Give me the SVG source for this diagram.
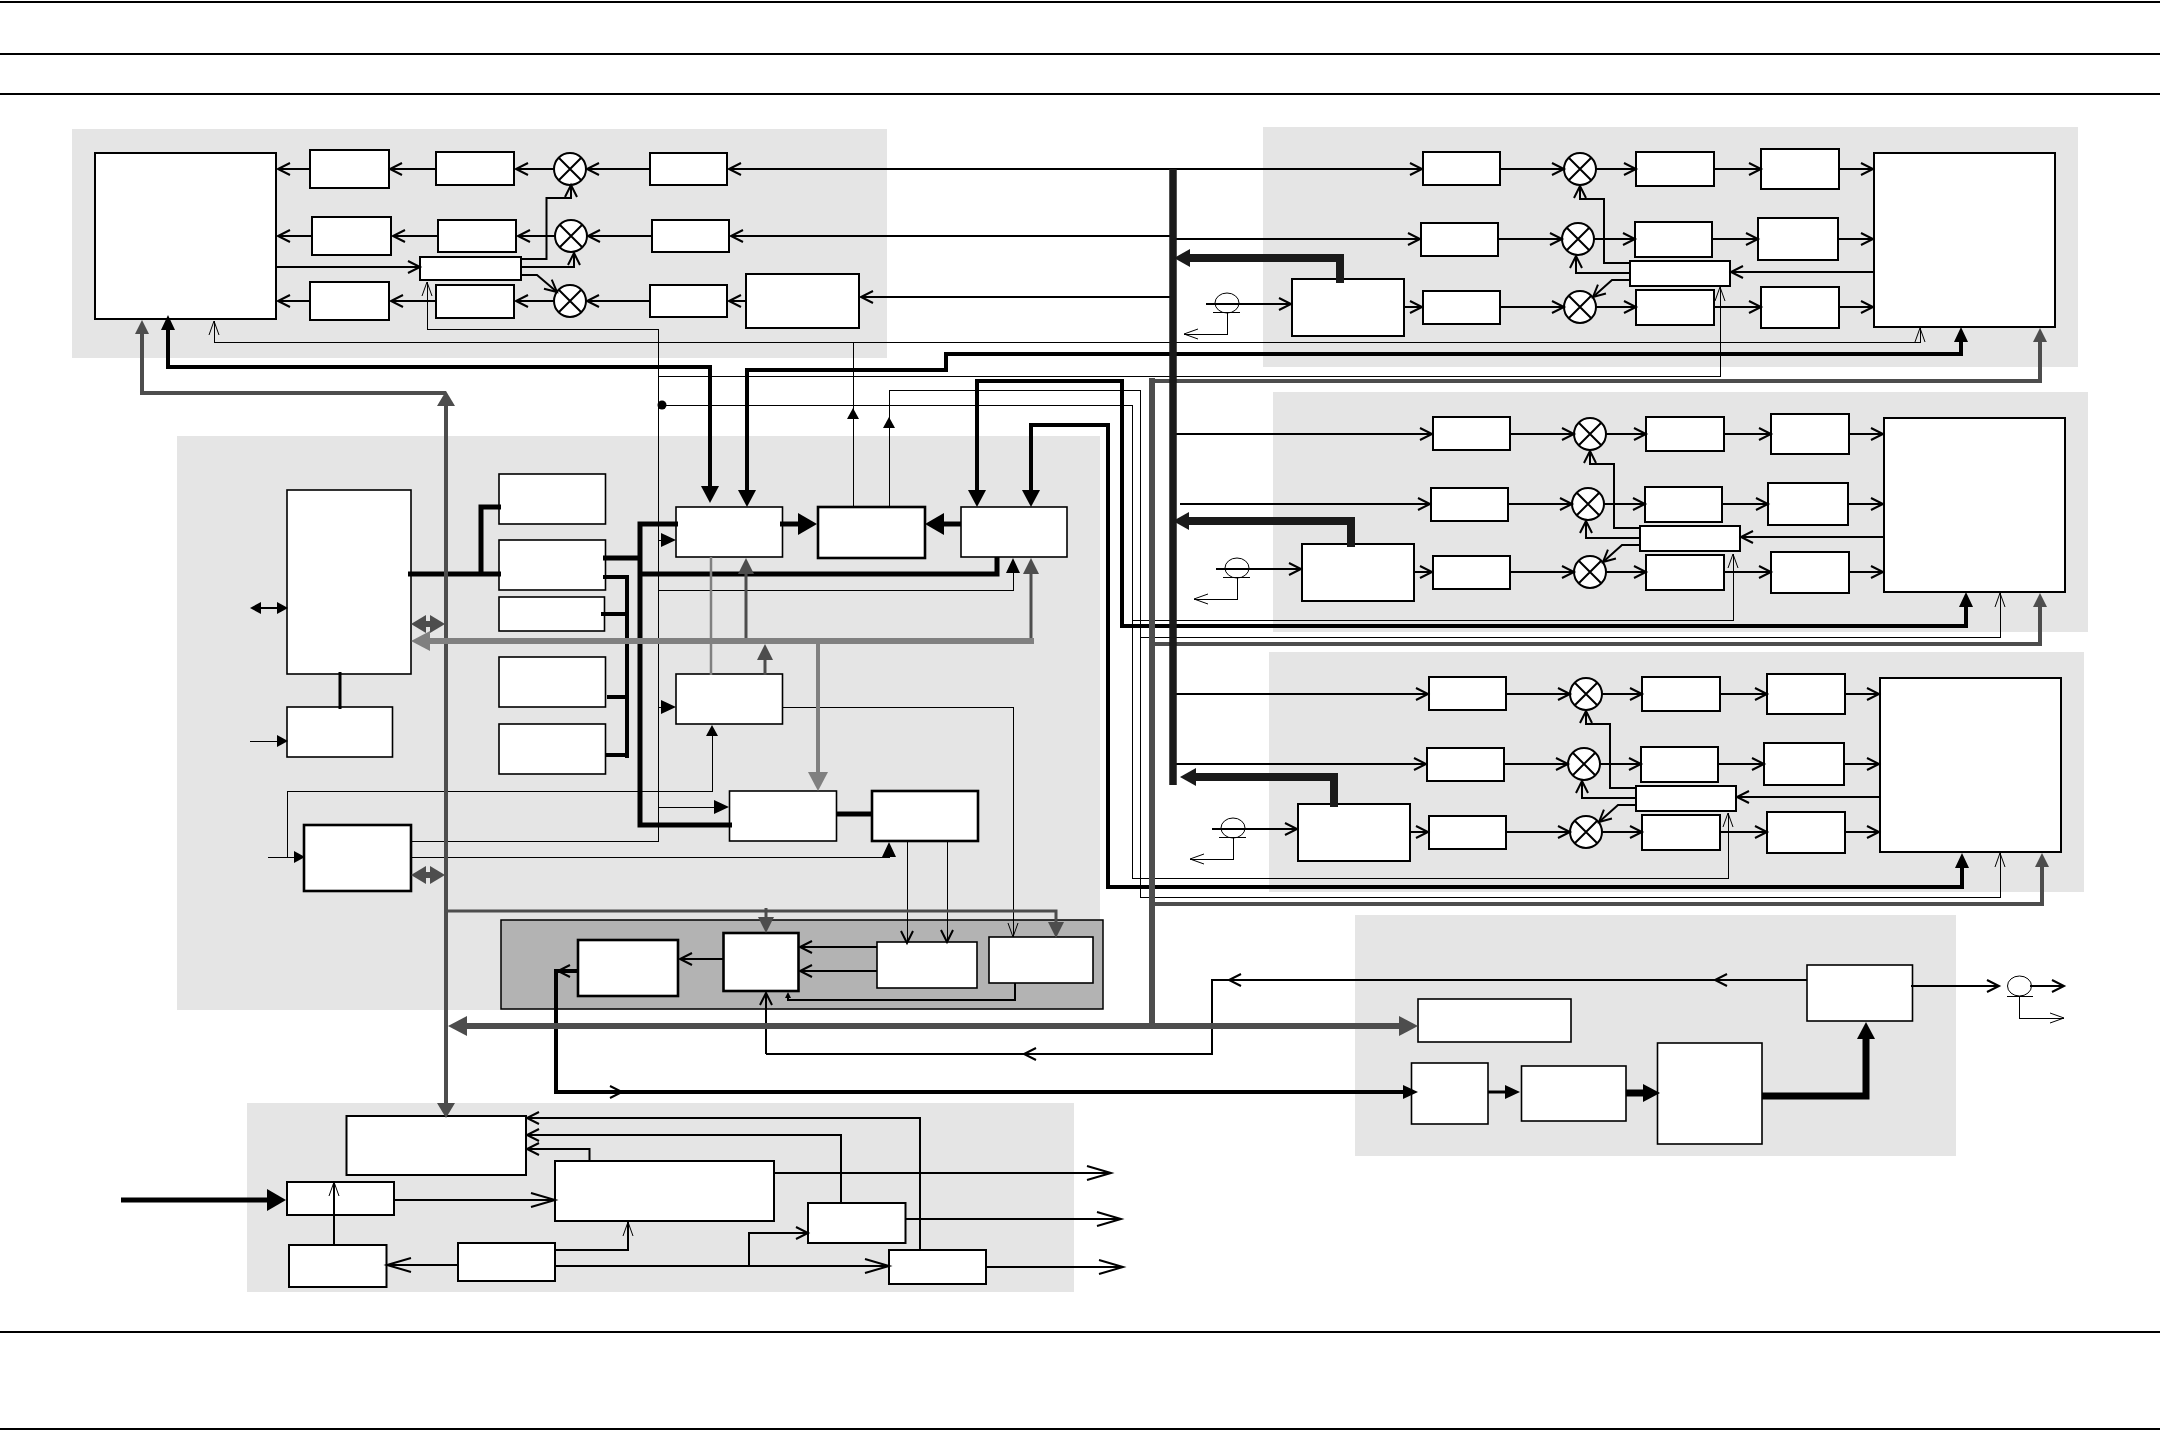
<svg xmlns="http://www.w3.org/2000/svg" width="2160" height="1431" viewBox="0 0 2160 1431">
<style>
.p{fill:#e5e5e5}
.pd{fill:#b3b3b3;stroke:#000;stroke-width:1.5}
.a rect{fill:#fff;stroke:#000;stroke-width:2}
.a circle{fill:#fff;stroke:#000;stroke-width:2}
.c rect{fill:#fff;stroke:#000;stroke-width:1.6}
.t rect{fill:#fff;stroke:#000;stroke-width:2.6}
.x{fill:none;stroke:#000;stroke-width:2}
.s{fill:none;stroke:#000;stroke-width:1}
#connectors path,#rules path{fill:none}
.k1{stroke:#000;stroke-width:1;shape-rendering:crispEdges}
.k2{stroke:#000;stroke-width:2}
.k3{stroke:#000;stroke-width:3}
.k4{stroke:#000;stroke-width:4}
.k5{stroke:#000;stroke-width:5}
.k7{stroke:#000;stroke-width:7}
.d3{stroke:#4d4d4d;stroke-width:3}
.d4{stroke:#4d4d4d;stroke-width:4}
.d6{stroke:#4d4d4d;stroke-width:6}
.m2{stroke:#808080;stroke-width:2.5}
.m4{stroke:#808080;stroke-width:4}
.m6{stroke:#808080;stroke-width:6}
.b8{stroke:#1a1a1a;stroke-width:8}
.ch{marker-end:url(#ch)}
.chb{marker-end:url(#chb)}
.cht{marker-end:url(#cht)}
.tl{marker-end:url(#tl)}
.tm{marker-end:url(#tm)}
.ts{marker-end:url(#ts)}
.tt{marker-end:url(#tt)}
.tb{marker-end:url(#tb)}
.gl{marker-end:url(#gl)}
.gd{marker-end:url(#gd)}
.gv{marker-end:url(#gv)}
.gm{marker-end:url(#gm)}
.gs{marker-end:url(#gs)}
.kk{marker-end:url(#kk)}
</style>
<defs>
<marker id="ch" markerUnits="userSpaceOnUse" orient="auto" overflow="visible" markerWidth="1" markerHeight="1"><path d="M-12,-6L0,0L-12,6" fill="none" stroke="#000" stroke-width="2"/></marker>
<marker id="chb" markerUnits="userSpaceOnUse" orient="auto" overflow="visible" markerWidth="1" markerHeight="1"><path d="M-24,-7L0,0L-24,7" fill="none" stroke="#000" stroke-width="2"/></marker>
<marker id="cht" markerUnits="userSpaceOnUse" orient="auto" overflow="visible" markerWidth="1" markerHeight="1"><path d="M-14,-5L0,0L-14,5" fill="none" stroke="#000" stroke-width="1"/></marker>
<marker id="tb" markerUnits="userSpaceOnUse" orient="auto" overflow="visible" markerWidth="1" markerHeight="1"><path d="M-1,-11L18,0L-1,11Z" fill="#000"/></marker>
<marker id="tl" markerUnits="userSpaceOnUse" orient="auto-start-reverse" overflow="visible" markerWidth="1" markerHeight="1"><path d="M-1,-9L16,0L-1,9Z" fill="#000"/></marker>
<marker id="tm" markerUnits="userSpaceOnUse" orient="auto" overflow="visible" markerWidth="1" markerHeight="1"><path d="M-1,-7L14,0L-1,7Z" fill="#000"/></marker>
<marker id="ts" markerUnits="userSpaceOnUse" orient="auto-start-reverse" overflow="visible" markerWidth="1" markerHeight="1"><path d="M-1,-6L10,0L-1,6Z" fill="#000"/></marker>
<marker id="tt" markerUnits="userSpaceOnUse" orient="auto" overflow="visible" markerWidth="1" markerHeight="1"><path d="M-1,-3L5,0L-1,3Z" fill="#000"/></marker>
<marker id="gl" markerUnits="userSpaceOnUse" orient="auto-start-reverse" overflow="visible" markerWidth="1" markerHeight="1"><path d="M-1,-8L15,0L-1,8Z" fill="#4d4d4d"/></marker>
<marker id="gs" markerUnits="userSpaceOnUse" orient="auto" overflow="visible" markerWidth="1" markerHeight="1"><path d="M-1,-7L13,0L-1,7Z" fill="#4d4d4d"/></marker>
<marker id="gv" markerUnits="userSpaceOnUse" orient="auto-start-reverse" overflow="visible" markerWidth="1" markerHeight="1"><path d="M-1,-9L14,0L-1,9Z" fill="#4d4d4d"/></marker>
<marker id="gd" markerUnits="userSpaceOnUse" orient="auto-start-reverse" overflow="visible" markerWidth="1" markerHeight="1"><path d="M-1,-10L18,0L-1,10Z" fill="#4d4d4d"/></marker>
<marker id="gm" markerUnits="userSpaceOnUse" orient="auto" overflow="visible" markerWidth="1" markerHeight="1"><path d="M-1,-10L18,0L-1,10Z" fill="#808080"/></marker>
<marker id="kk" markerUnits="userSpaceOnUse" orient="auto" overflow="visible" markerWidth="1" markerHeight="1"><path d="M-1,-9L15,0L-1,9Z" fill="#1a1a1a"/></marker>
</defs>
<rect width="2160" height="1431" fill="#fff"/>
<g id="rules"><path class="k2" d="M0,2H2160M0,54H2160M0,94H2160M0,1332H2160M0,1429H2160"/></g>
<g id="panels">
<rect class="p" x="72" y="129" width="815" height="229"/>
<rect class="p" x="1263" y="127" width="815" height="240"/>
<rect class="p" x="1273" y="392" width="815" height="240"/>
<rect class="p" x="1269" y="652" width="815" height="240"/>
<rect class="p" x="177" y="436" width="923" height="574"/>
<rect class="p" x="1355" y="915" width="601" height="241"/>
<rect class="p" x="247" y="1103" width="827" height="189"/>
<rect class="pd" x="501" y="920" width="602" height="89"/>
</g>
<g id="nodes-tx" class="a">
<g id="tx-block"><rect x="95" y="153" width="181" height="166"/></g>
<g id="tx-a1"><rect x="310" y="150" width="79" height="38"/></g>
<g id="tx-a2"><rect x="436" y="152" width="78" height="33"/></g>
<g id="tx-m1"><circle cx="570" cy="169" r="16"/><path class="x" d="M559,158L581,180M559,180L581,158"/></g>
<g id="tx-a3"><rect x="650" y="153" width="77" height="32"/></g>
<g id="tx-b1"><rect x="312" y="217" width="79" height="38"/></g>
<g id="tx-b2"><rect x="438" y="220" width="78" height="32"/></g>
<g id="tx-m2"><circle cx="571" cy="236" r="16"/><path class="x" d="M560,225L582,247M560,247L582,225"/></g>
<g id="tx-b3"><rect x="652" y="220" width="77" height="32"/></g>
<g id="tx-c1"><rect x="310" y="282" width="79" height="38"/></g>
<g id="tx-c2"><rect x="436" y="285" width="78" height="33"/></g>
<g id="tx-m3"><circle cx="570" cy="301" r="16"/><path class="x" d="M559,290L581,312M559,312L581,290"/></g>
<g id="tx-c3"><rect x="650" y="285" width="77" height="32"/></g>
<g id="tx-c4"><rect x="746" y="274" width="113" height="54"/></g>
<g id="tx-ctrl"><rect x="420" y="257" width="101" height="23"/></g>
</g>
<g id="nodes-ch1" class="a">
<g id="c1-r1a"><rect x="1423" y="152" width="77" height="33"/></g>
<g id="c1-m1"><circle cx="1580" cy="169" r="16"/><path class="x" d="M1569,158L1591,180M1569,180L1591,158"/></g>
<g id="c1-r1b"><rect x="1636" y="152" width="78" height="34"/></g>
<g id="c1-r1c"><rect x="1761" y="149" width="78" height="40"/></g>
<g id="c1-r2a"><rect x="1421" y="223" width="77" height="33"/></g>
<g id="c1-m2"><circle cx="1578" cy="239" r="16"/><path class="x" d="M1567,228L1589,250M1567,250L1589,228"/></g>
<g id="c1-r2b"><rect x="1635" y="222" width="77" height="35"/></g>
<g id="c1-r2c"><rect x="1758" y="218" width="80" height="42"/></g>
<g id="c1-r3a"><rect x="1423" y="291" width="77" height="33"/></g>
<g id="c1-m3"><circle cx="1580" cy="307" r="16"/><path class="x" d="M1569,296L1591,318M1569,318L1591,296"/></g>
<g id="c1-r3b"><rect x="1636" y="290" width="78" height="35"/></g>
<g id="c1-r3c"><rect x="1761" y="287" width="78" height="41"/></g>
<g id="c1-block"><rect x="1874" y="153" width="181" height="174"/></g>
<g id="c1-ctrl"><rect x="1630" y="261" width="100" height="25"/></g>
<g id="c1-in"><rect x="1292" y="279" width="112" height="57"/></g>
<g id="c1-sensor"><ellipse class="s" cx="1227" cy="303" rx="12" ry="10"/><path class="k1" d="M1213,312H1240"/></g>
</g>
<g id="nodes-ch2" class="a" transform="translate(10 265)">
<g id="c2-r1a"><rect x="1423" y="152" width="77" height="33"/></g>
<g id="c2-m1"><circle cx="1580" cy="169" r="16"/><path class="x" d="M1569,158L1591,180M1569,180L1591,158"/></g>
<g id="c2-r1b"><rect x="1636" y="152" width="78" height="34"/></g>
<g id="c2-r1c"><rect x="1761" y="149" width="78" height="40"/></g>
<g id="c2-r2a"><rect x="1421" y="223" width="77" height="33"/></g>
<g id="c2-m2"><circle cx="1578" cy="239" r="16"/><path class="x" d="M1567,228L1589,250M1567,250L1589,228"/></g>
<g id="c2-r2b"><rect x="1635" y="222" width="77" height="35"/></g>
<g id="c2-r2c"><rect x="1758" y="218" width="80" height="42"/></g>
<g id="c2-r3a"><rect x="1423" y="291" width="77" height="33"/></g>
<g id="c2-m3"><circle cx="1580" cy="307" r="16"/><path class="x" d="M1569,296L1591,318M1569,318L1591,296"/></g>
<g id="c2-r3b"><rect x="1636" y="290" width="78" height="35"/></g>
<g id="c2-r3c"><rect x="1761" y="287" width="78" height="41"/></g>
<g id="c2-block"><rect x="1874" y="153" width="181" height="174"/></g>
<g id="c2-ctrl"><rect x="1630" y="261" width="100" height="25"/></g>
<g id="c2-in"><rect x="1292" y="279" width="112" height="57"/></g>
<g id="c2-sensor"><ellipse class="s" cx="1227" cy="303" rx="12" ry="10"/><path class="k1" d="M1213,312H1240"/></g>
</g>
<g id="nodes-ch3" class="a" transform="translate(6 525)">
<g id="c3-r1a"><rect x="1423" y="152" width="77" height="33"/></g>
<g id="c3-m1"><circle cx="1580" cy="169" r="16"/><path class="x" d="M1569,158L1591,180M1569,180L1591,158"/></g>
<g id="c3-r1b"><rect x="1636" y="152" width="78" height="34"/></g>
<g id="c3-r1c"><rect x="1761" y="149" width="78" height="40"/></g>
<g id="c3-r2a"><rect x="1421" y="223" width="77" height="33"/></g>
<g id="c3-m2"><circle cx="1578" cy="239" r="16"/><path class="x" d="M1567,228L1589,250M1567,250L1589,228"/></g>
<g id="c3-r2b"><rect x="1635" y="222" width="77" height="35"/></g>
<g id="c3-r2c"><rect x="1758" y="218" width="80" height="42"/></g>
<g id="c3-r3a"><rect x="1423" y="291" width="77" height="33"/></g>
<g id="c3-m3"><circle cx="1580" cy="307" r="16"/><path class="x" d="M1569,296L1591,318M1569,318L1591,296"/></g>
<g id="c3-r3b"><rect x="1636" y="290" width="78" height="35"/></g>
<g id="c3-r3c"><rect x="1761" y="287" width="78" height="41"/></g>
<g id="c3-block"><rect x="1874" y="153" width="181" height="174"/></g>
<g id="c3-ctrl"><rect x="1630" y="261" width="100" height="25"/></g>
<g id="c3-in"><rect x="1292" y="279" width="112" height="57"/></g>
<g id="c3-sensor"><ellipse class="s" cx="1227" cy="303" rx="12" ry="10"/><path class="k1" d="M1213,312H1240"/></g>
</g>
<g id="nodes-center" class="c">
<g id="l-block"><rect x="287" y="490" width="124" height="184"/></g>
<g id="l-small"><rect x="287" y="707" width="105.500" height="50"/></g>
<g id="s1"><rect x="499" y="474" width="106.500" height="50"/></g>
<g id="s2"><rect x="499" y="540" width="106.500" height="50"/></g>
<g id="s3"><rect x="499" y="597" width="105.500" height="34"/></g>
<g id="s4"><rect x="499" y="657" width="106.500" height="50"/></g>
<g id="s5"><rect x="499" y="724" width="106.500" height="50"/></g>
<g id="box-a"><rect x="676" y="507" width="106.500" height="50"/></g>
<g id="box-c" class="t"><rect x="818" y="507" width="107" height="51"/></g>
<g id="box-d"><rect x="961" y="507" width="106" height="50"/></g>
<g id="box-e"><rect x="676" y="674" width="106.500" height="50"/></g>
<g id="box-f"><rect x="729.500" y="791" width="107" height="50"/></g>
<g id="box-h" class="t"><rect x="872" y="791" width="106" height="50"/></g>
<g id="box-g" class="t"><rect x="304" y="825" width="107" height="66"/></g>
<g id="d1" class="t"><rect x="578" y="940" width="100" height="56"/></g>
<g id="d2" class="t"><rect x="723.500" y="933" width="75" height="58"/></g>
<g id="d3"><rect x="877" y="942" width="100" height="46"/></g>
<g id="d4"><rect x="989" y="937" width="104" height="46"/></g>
</g>
<g id="nodes-bottom" class="a">
<g id="f1"><rect x="346.500" y="1116" width="179.500" height="59"/></g>
<g id="f2"><rect x="555" y="1161" width="219" height="60"/></g>
<g id="f3"><rect x="287" y="1182" width="107" height="33"/></g>
<g id="f4"><rect x="289" y="1245" width="97.500" height="42"/></g>
<g id="f5"><rect x="458" y="1243" width="97" height="38"/></g>
<g id="f6"><rect x="808" y="1203" width="97.500" height="40"/></g>
<g id="f7"><rect x="889" y="1250" width="97" height="34"/></g>
</g>
<g id="nodes-right" class="c">
<g id="r1"><rect x="1807" y="965" width="105.500" height="56"/></g>
<g id="r2"><rect x="1418" y="999" width="153" height="43"/></g>
<g id="r3"><rect x="1411.500" y="1063" width="76.500" height="61"/></g>
<g id="r4"><rect x="1521.500" y="1066" width="104.500" height="55"/></g>
<g id="r5"><rect x="1657.500" y="1043" width="104.500" height="101"/></g>
<g id="r-sensor"><ellipse class="s" cx="2019.500" cy="986" rx="12" ry="10"/><path class="k1" d="M2007,996H2033"/></g>
</g>
<g id="connectors">
<g id="con-tx">
<path class="k2 ch" d="M310,169H278"/><path class="k2 ch" d="M436,169H390"/><path class="k2 ch" d="M554,169H516"/><path class="k2 ch" d="M650,169H587"/><path class="k2 ch" d="M1172,169H729"/>
<path class="k2 ch" d="M312,236H278"/><path class="k2 ch" d="M438,236H393"/><path class="k2 ch" d="M555,236H518"/><path class="k2 ch" d="M652,236H588"/><path class="k2 ch" d="M1172,236H731"/>
<path class="k2 ch" d="M310,301H278"/><path class="k2 ch" d="M436,301H391"/><path class="k2 ch" d="M554,301H516"/><path class="k2 ch" d="M650,301H587"/><path class="k2 ch" d="M746,301H729"/><path class="k2 ch" d="M1172,297H861"/>
<path class="k2 ch" d="M276,267H420"/><path class="k2 ch" d="M521,259H546.500V198H571V185"/><path class="k2 ch" d="M521,267H574V253"/><path class="k2 ch" d="M521,275H537L557,292"/>
</g>
<g id="con-ch1">
<path class="k2 ch" d="M1165,169H1422"/><path class="k2 ch" d="M1500,169H1564"/><path class="k2 ch" d="M1596,169H1636"/><path class="k2 ch" d="M1714,169H1761"/><path class="k2 ch" d="M1839,169H1873"/>
<path class="k2 ch" d="M1170,239H1420"/><path class="k2 ch" d="M1498,239H1562"/><path class="k2 ch" d="M1594,239H1635"/><path class="k2 ch" d="M1712,239H1758"/><path class="k2 ch" d="M1838,239H1873"/>
<path class="k2 ch" d="M1404,307H1422"/><path class="k2 ch" d="M1500,307H1564"/><path class="k2 ch" d="M1596,307H1636"/><path class="k2 ch" d="M1714,307H1761"/><path class="k2 ch" d="M1839,307H1873"/>
<path class="k2 ch" d="M1874,272H1731"/><path class="k2 ch" d="M1630,263H1604V199H1580V186"/><path class="k2 ch" d="M1630,273H1576V256"/><path class="k2 ch" d="M1630,280H1612L1593,297"/>
<path class="k2 ch" d="M1206,304H1291"/><path class="k1 cht" d="M1227,312V334H1184"/>
</g>
<g id="con-ch2" transform="translate(10 265)">
<path class="k2 ch" d="M1165,169H1422"/><path class="k2 ch" d="M1500,169H1564"/><path class="k2 ch" d="M1596,169H1636"/><path class="k2 ch" d="M1714,169H1761"/><path class="k2 ch" d="M1839,169H1873"/>
<path class="k2 ch" d="M1170,239H1420"/><path class="k2 ch" d="M1498,239H1562"/><path class="k2 ch" d="M1594,239H1635"/><path class="k2 ch" d="M1712,239H1758"/><path class="k2 ch" d="M1838,239H1873"/>
<path class="k2 ch" d="M1404,307H1422"/><path class="k2 ch" d="M1500,307H1564"/><path class="k2 ch" d="M1596,307H1636"/><path class="k2 ch" d="M1714,307H1761"/><path class="k2 ch" d="M1839,307H1873"/>
<path class="k2 ch" d="M1874,272H1731"/><path class="k2 ch" d="M1630,263H1604V199H1580V186"/><path class="k2 ch" d="M1630,273H1576V256"/><path class="k2 ch" d="M1630,280H1612L1593,297"/>
<path class="k2 ch" d="M1206,304H1291"/><path class="k1 cht" d="M1227,312V334H1184"/>
</g>
<g id="con-ch3" transform="translate(6 525)">
<path class="k2 ch" d="M1165,169H1422"/><path class="k2 ch" d="M1500,169H1564"/><path class="k2 ch" d="M1596,169H1636"/><path class="k2 ch" d="M1714,169H1761"/><path class="k2 ch" d="M1839,169H1873"/>
<path class="k2 ch" d="M1170,239H1420"/><path class="k2 ch" d="M1498,239H1562"/><path class="k2 ch" d="M1594,239H1635"/><path class="k2 ch" d="M1712,239H1758"/><path class="k2 ch" d="M1838,239H1873"/>
<path class="k2 ch" d="M1404,307H1422"/><path class="k2 ch" d="M1500,307H1564"/><path class="k2 ch" d="M1596,307H1636"/><path class="k2 ch" d="M1714,307H1761"/><path class="k2 ch" d="M1839,307H1873"/>
<path class="k2 ch" d="M1874,272H1731"/><path class="k2 ch" d="M1630,263H1604V199H1580V186"/><path class="k2 ch" d="M1630,273H1576V256"/><path class="k2 ch" d="M1630,280H1612L1593,297"/>
<path class="k2 ch" d="M1206,304H1291"/><path class="k1 cht" d="M1227,312V334H1184"/>
</g>
<g id="con-thin">
<path class="k1 cht" d="M853,342H214V321"/><path class="k1 cht" d="M853,342H1920V328"/><path class="k1" d="M853,507V342"/><path class="k1 ts" d="M853,419V418"/>
<path class="k1" d="M889,507V390H1140V897H2000V853"/><path class="k1 cht" d="M2000,867V853"/><path class="k1 ts" d="M889,428V427"/>
<path class="k1 cht" d="M1140,637H2000V593"/>
<path class="k1 cht" d="M1132,405V878H1728V813"/><path class="k1 cht" d="M1132,620H1733V554"/>
<path class="k1" d="M662,405H1132"/>
<path class="k1 cht" d="M658,376H1720V287"/>
<path class="k1 cht" d="M411,841H658V329H427V282"/>
<path class="k1 tm" d="M658,540H662"/><path class="k1 tm" d="M658,707H662"/><path class="k1 tm" d="M658,807H715"/>
<path class="k1 tm" d="M658,590H1013V572"/>
<path class="k1 ts" d="M287,857V791H712V735"/><path class="k1 ts" d="M268,857H295"/>
<path class="k1 tm" d="M411,857H889V856"/>
<path class="k1 cht" d="M782,707H1013V937"/>
</g>
<g id="con-black">
<path class="k4 tm" style="marker-start:url(#tl)" d="M710,487V367H168V329"/>
<path class="k4 tm" d="M747,491V370H946V354H1961V341"/><path class="k4 tl" d="M747,480V491"/>
<path class="k4 tm" d="M977,491V381H1122V626H1966V606"/><path class="k4 tl" d="M977,480V491"/>
<path class="k4 tm" d="M1031,491V425H1108V887H1962V867"/><path class="k4 tl" d="M1031,480V491"/>
<path class="k5" d="M408,574H501M481,574V507H501"/>
<path class="k5" d="M603,558H640M678,524H640V825H732"/>
<path class="k5" d="M640,574H997V557"/>
<path class="k4" d="M627,575V758M603,577H627M601,614H627M607,697H627M605,755H627"/>
<path class="k5 tb" d="M780,524H799"/><path class="k5 tb" d="M961,524H943"/><path class="k5" d="M836,814H872"/>
<path class="k3" d="M340,672V709"/>
<path class="k1 ts" d="M260,608H278" style="marker-start:url(#ts);stroke-width:1.5"/><path class="k1 ts" d="M250,741H278"/>
<path class="k2 ch" d="M877,947H800"/><path class="k2 ch" d="M877,971H800"/><path class="k2 ch" d="M723,959H680"/>
<path class="k4 ch" d="M577,971H558"/><path class="k4 tm" d="M556,969V1092H1404"/><path class="k2 ch" d="M610,1092H622"/>
<path class="k2 tt" d="M1015,983V1000H788V997"/>
<path class="k2 ch" d="M766,1054V993"/>
<path class="k2" d="M766,1054H1212V980H1807"/><path class="k2 ch" d="M1240,980H1229"/><path class="k2 ch" d="M1730,980H1715"/><path class="k2 ch" d="M1040,1054H1024"/>
<path class="k1 ch" d="M907,841V943"/><path class="k1 ch" d="M947,841V942"/>
</g>
<g id="con-bottom">
<path class="k5 tb" d="M121,1200H268"/>
<path class="k2 chb" d="M394,1200H555"/><path class="k2 cht" d="M334,1244V1182"/><path class="k2 chb" d="M458,1265H387"/><path class="k2 cht" d="M555,1250H628V1222"/>
<path class="k2 chb" d="M555,1266H889"/><path class="k2 ch" d="M749,1266V1233H808"/>
<path class="k2 ch" d="M841,1203V1135H527"/><path class="k2 ch" d="M920,1250V1118H527"/><path class="k2 ch" d="M589.500,1161V1149H527"/>
<path class="k2 chb" d="M774,1173H1111"/><path class="k2 chb" d="M905,1219H1121"/><path class="k2 chb" d="M986,1267H1123"/>
</g>
<g id="con-right">
<path class="k3 tm" d="M1488,1092H1506"/><path class="k7 tl" d="M1626,1093H1644"/>
<path class="k7 tl" d="M1762,1096H1866V1038"/>
<path class="k2 ch" d="M1911,986H1999"/><path class="k2 ch" d="M2030,986H2064"/><path class="k1 cht" d="M2019.500,996V1018H2064"/>
</g>
<g id="con-gray">
<path class="d4 gv" style="marker-start:url(#gv)" d="M446,1104V405"/>
<path class="d4 gs" d="M446,393H142V333"/>
<path class="d6 gd" style="marker-start:url(#gd)" d="M466,1026H1400"/>
<path class="d6" d="M1152,378V1026"/>
<path class="d4 gs" d="M1152,381H2040V341"/>
<path class="d4 gs" d="M1152,644H2040V606"/>
<path class="d4 gs" d="M1152,904H2042V866"/>
<path class="d3 gl" d="M446,911H1056V923"/><path class="d3 gl" d="M766,908V918"/>
<path class="m6 gm" d="M1034,641H429"/><path class="d3 gl" d="M1031,638V573"/><path class="d3 gl" d="M746,638V573"/>
<path class="m2" d="M711,557V675"/><path class="d3 gl" d="M765,675V659"/><path class="m4 gm" d="M818,641V773"/>
<path class="d6 gv" style="marker-start:url(#gv)" d="M425,624H431"/><path class="d6 gv" style="marker-start:url(#gv)" d="M425,875H431"/>
</g>
<g id="con-bus">
<path class="b8" d="M1173,169V785" style="stroke-width:7.500"/>
<path class="b8 kk" d="M1340,283V258H1189"/><path class="b8 kk" d="M1351,547V521H1188"/><path class="b8 kk" d="M1334,807V777H1195"/>
</g>
</g>
<g id="dot"><circle cx="662" cy="405" r="4.500" fill="#000"/></g>
</svg>
